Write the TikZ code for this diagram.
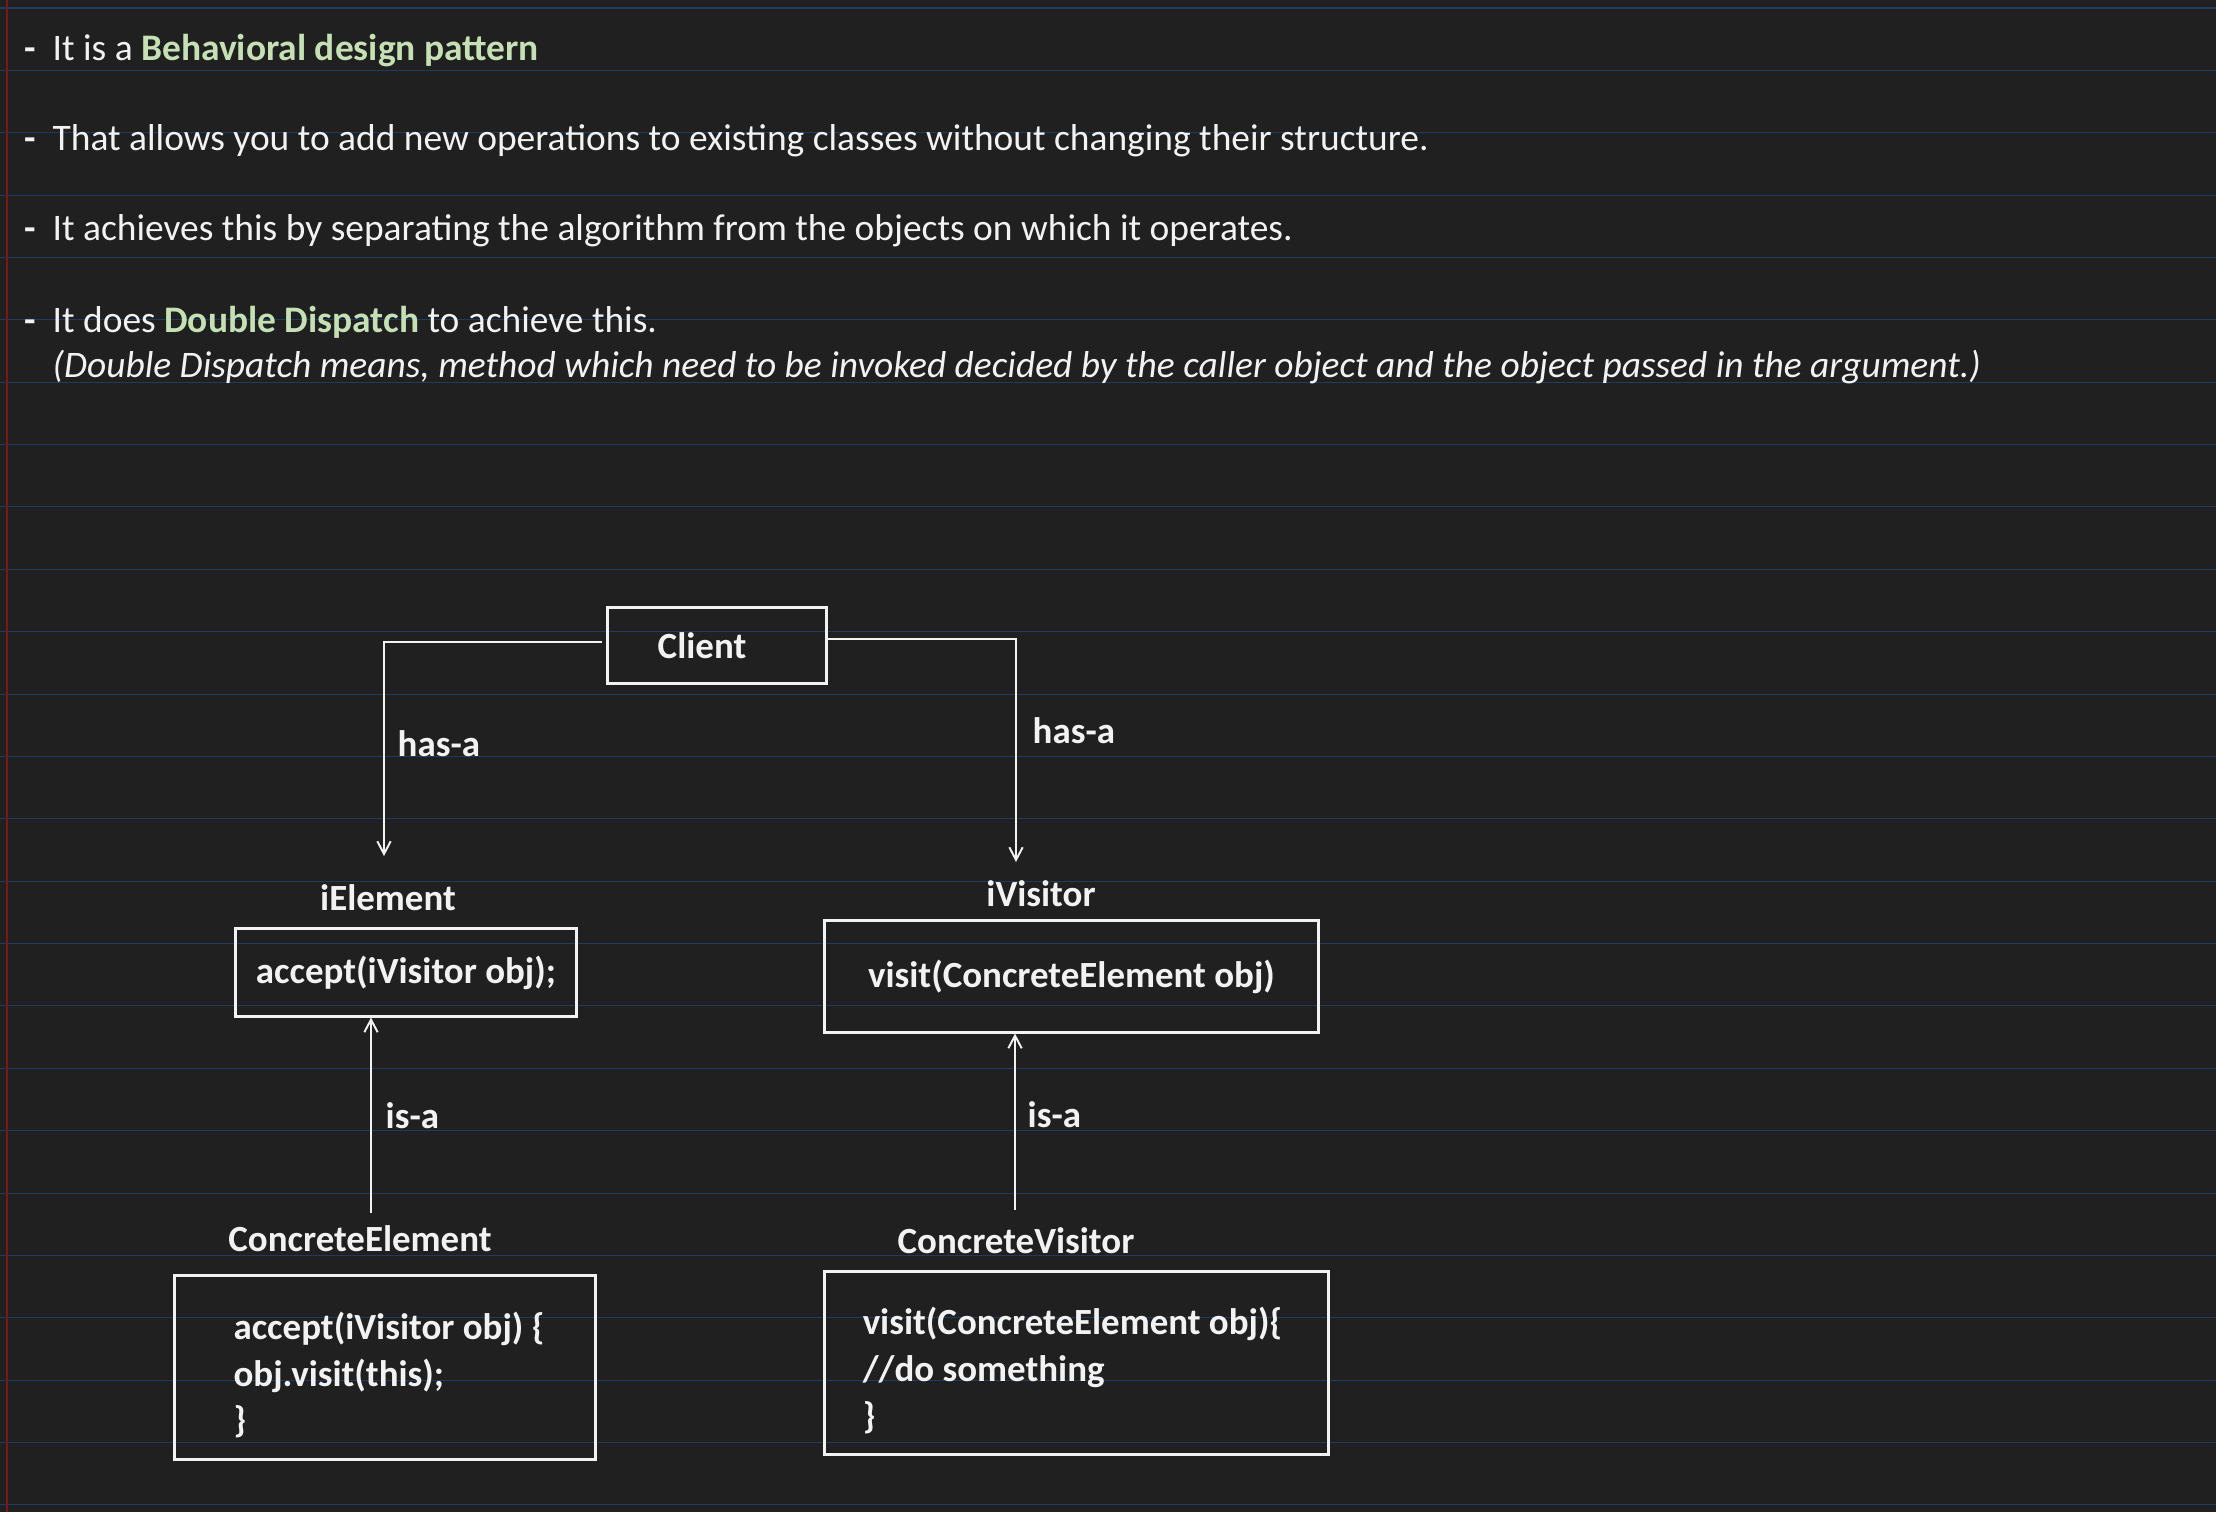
\documentclass[tikz,border=0pt]{standalone}
\usepackage{fontspec}
\setmainfont{Carlito}
\usetikzlibrary{positioning,arrows.meta}
\definecolor{pagebg}{RGB}{32,32,32}
\definecolor{ruleblue}{RGB}{28,60,96}
\definecolor{marginred}{RGB}{125,22,22}
\definecolor{inktext}{RGB}{242,242,242}
\definecolor{hlgreen}{RGB}{197,224,180}
\newcommand{\hl}[1]{\textbf{\color{hlgreen}#1}}
\newcommand{\topgap}{\rule{0pt}{12.1pt}}

\begin{document}
\begin{tikzpicture}[x=0.01cm,y=-0.01cm]
\tikzstyle{note}=[anchor=base west, inner sep=0pt, text=inktext, font=\fontsize{10.65pt}{13pt}\selectfont]
\tikzstyle{cls}=[rectangle, draw=inktext, line width=0.85pt, text=inktext, align=left, inner sep=0pt, font=\bfseries\fontsize{10.5pt}{13.3pt}\selectfont]
\tikzstyle{title}=[anchor=base, inner sep=0pt, text=inktext, font=\bfseries\fontsize{10.5pt}{13pt}\selectfont]
\tikzstyle{connect}=[-{Straight Barb[length=3.6pt,width=3.8pt]}, draw=inktext, line width=0.55pt]
  % ruled page
  \fill[pagebg] (0,0) rectangle (2216,1512);
  \useasboundingbox (0,0) rectangle (2216,1512);
  \foreach \k in {0,...,24}
    \draw[ruleblue, line width=0.3pt] (0,{8+62.37*\k}) -- (2216,{8+62.37*\k});
  \draw[marginred, line width=0.4pt] (7,0) -- (7,1512);
  % notes
  \foreach \y in {60,150,240,332}
    \node[note] (lead\y) at (24,\y) {\textbf{-}};
  \node[note] (l1) at (52,60) {It is a \hl{Behavioral design pattern}};
  \node[note] (l2) at (52,150) {That allows you to add new operations to existing classes without changing their structure.};
  \node[note] (l3) at (52,240) {It achieves this by separating the algorithm from the objects on which it operates.};
  \node[note] (l4) at (52,332) {It does \hl{Double Dispatch} to achieve this.};
  \node[note] (l5) at (52,377) {\itshape (Double Dispatch means, method which need to be invoked decided by the caller object and the object passed in the argument.)};
  % classes
  \node[cls, minimum width=2.18cm, minimum height=0.75cm] (client) at (717,645.5) {Client\hspace*{0.3cm}};
  \node[cls, minimum width=3.40cm, minimum height=0.87cm] (ielement) at (406,972.5) {accept(iVisitor obj);};
  \node[cls, minimum width=4.93cm, minimum height=1.11cm] (ivisitor) at (1071.5,976.5) {visit(ConcreteElement obj)};
  \node[cls, minimum width=4.20cm, minimum height=1.83cm] (celement) at (385,1367.5)
    {\topgap\hspace*{0.08cm}accept(iVisitor obj) \{\\\hspace*{0.08cm}obj.visit(this);\\\hspace*{0.08cm}\}};
  \node[cls, minimum width=5.03cm, minimum height=1.82cm] (cvisitor) at (1076.5,1363)
    {\topgap visit(ConcreteElement obj)\{\hspace*{0.08cm}\\//do something\\\}};
  \node[title] (ieltitle) at (388,910) {iElement};
  \node[title] (ivistitle) at (1041,906) {iVisitor};
  \node[title] (celtitle) at (360,1251) {ConcreteElement};
  \node[title] (cvistitle) at (1016,1253) {ConcreteVisitor};
  % relations
  \node[title, anchor=base west] (hasleft) at (397,756) {has-a};
  \node[title, anchor=base west] (hasright) at (1032,743) {has-a};
  \node[title, anchor=base west] (isleft) at (385,1128) {is-a};
  \node[title, anchor=base west] (isright) at (1027,1127) {is-a};
  \coordinate (elhead) at (384,856);
  \coordinate (vihead) at (1016,862);
  \coordinate (celtail) at (371,1213);
  \coordinate (cvitail) at (1015,1210);
  \draw[connect, shorten <=1.4pt] ([yshift=1pt]client.west) -| (elhead);
  \draw[connect] ([yshift=1.8pt]client.east) -| (vihead);
  \draw[connect] (celtail) -- (celtail |- ielement.south);
  \draw[connect] (cvitail) -- (cvitail |- ivisitor.south);
\end{tikzpicture}
\end{document}
